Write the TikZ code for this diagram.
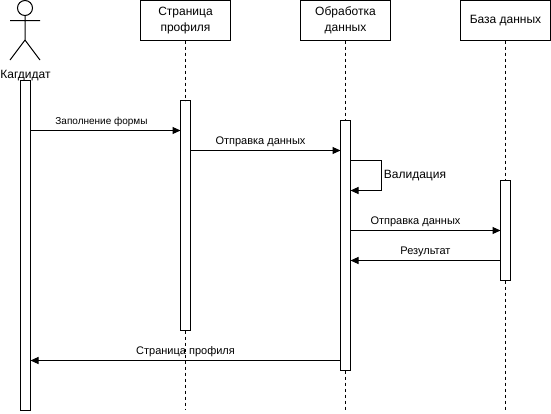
\documentclass[tikz,border=0pt]{standalone}
\usepackage{fontspec}
\setmainfont{Liberation Sans}
\usetikzlibrary{arrows.meta}
\newcommand{\lowered}[1]{\raisebox{-1pt}{#1}}
\tikzset{
  x=1pt,y=-1pt,
  every node/.style={inner sep=0pt,outer sep=0pt},
  partbox/.style={draw=black,line width=1pt,fill=white,minimum width=90pt,minimum height=40pt,align=center,font=\fontsize{12}{16}\selectfont},
  actbar/.style={draw=black,line width=1pt,fill=white,minimum width=10pt},
  lifeline/.style={draw=black,line width=1pt,dash pattern=on 3pt off 3pt},
  msg/.style={draw=black,line width=1pt,-{Triangle[length=8pt,width=7pt]}},
  msglabel/.style={font=\fontsize{11}{13}\selectfont,anchor=center},
  actorline/.style={draw=black,line width=1pt}
}
\begin{document}
\begin{tikzpicture}
\useasboundingbox (0,0) rectangle (551,413);
% participants
\node[partbox] (page) at (185.5,20.5) {\lowered{Страница}\\\lowered{профиля}};
\node[partbox] (proc) at (345.5,20.5) {\lowered{Обработка}\\\lowered{данных}};
\node[partbox] (db) at (505.5,20.5) {\lowered{База данных}};
% activations
\node[actbar,minimum height=330pt] (aA) at (25.5,245.5) {};
\node[actbar,minimum height=230pt] (aP) at (185.5,215.5) {};
\node[actbar,minimum height=250pt] (aD) at (345.5,245.5) {};
\node[actbar,minimum height=100pt] (aB) at (505.5,230.5) {};
% lifeline ends
\coordinate (endP) at (185.5,410);
\coordinate (endD) at (345.5,410);
\coordinate (endB) at (505.5,410);
% lifelines
\draw[lifeline] (page.south) -- (aP.north);
\draw[lifeline] (aP.south) -- (endP);
\draw[lifeline] ([xshift=-.5pt]proc.south) -- ([xshift=-.5pt]aD.north);
\draw[lifeline] (aD.south) -- (endD);
\draw[lifeline] ([xshift=-.5pt]db.south) -- ([xshift=-.5pt]aB.north);
\draw[lifeline] (aB.south) -- (endB);
% actor
\draw[actorline] (25,8) circle (7.5);
\draw[actorline] (25,15.5) -- (25,40) (10,20.5) -- (40,20.5) (25,40) -- (10,60) (25,40) -- (40,60);
\node[font=\fontsize{12}{14}\selectfont] (actorlabel) at (25.5,75.5) {Кагдидат};
% messages
\draw[msg] (aA.east |- 0,130.5) -- (aP.west |- 0,130.5) node[midway,yshift=8.5pt,xshift=-4pt,font=\fontsize{10}{12}\selectfont] (m1) {Заполнение формы};
\draw[msg] (aP.east |- 0,150.5) -- (aD.west |- 0,150.5) node[midway,yshift=8.5pt,xshift=-5pt,msglabel] (m2) {Отправка данных};
\draw[msg] (aD.east |- 0,160.5) -- (381,160.5) -- (381,190.5) -- (aD.east |- 0,190.5);
\node[font=\fontsize{12}{14}\selectfont] (m3) at (415,175.5) {Валидация};
\draw[msg] (aD.east |- 0,230.5) -- (aB.west |- 0,230.5) node[midway,yshift=8.5pt,xshift=-10pt,msglabel] (m4) {Отправка данных};
\draw[msg] (aB.west |- 0,260.5) -- (aD.east |- 0,260.5) node[midway,yshift=8.5pt,msglabel] (m5) {Результат};
\draw[msg] (aD.west |- 0,360.5) -- (aA.east |- 0,360.5) node[midway,yshift=8.5pt,msglabel] (m6) {Страница профиля};
\end{tikzpicture}
\end{document}
